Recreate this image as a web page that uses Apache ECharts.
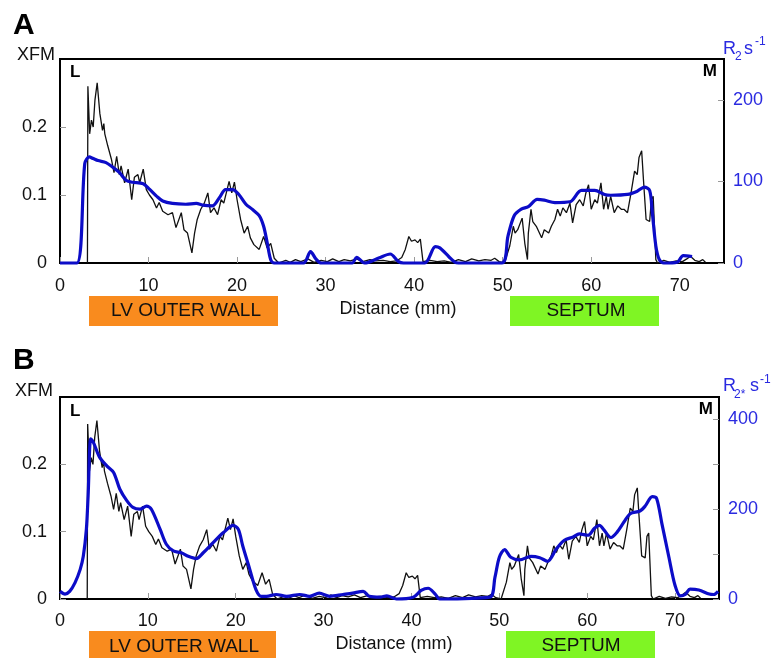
<!DOCTYPE html>
<html>
<head>
<meta charset="utf-8">
<script src="https://cdn.jsdelivr.net/npm/echarts@6/dist/echarts.min.js"></script>
<style>
  html, body { margin: 0; padding: 0; background: #fff; }
  #chart { width: 773px; height: 658px; }
</style>
</head>
<body>
<div id="chart"></div>
<script>
// XFM profile (same trace in both panels): distance in mm, signal
var xfmMm = [3.1, 3.15, 3.35, 3.55, 3.75, 3.95, 4.2, 4.5, 4.8, 4.95, 5.06, 5.4, 5.8, 6.1, 6.4, 6.7, 6.9, 7.3, 7.7, 8.1,
  8.4, 8.8, 9.0, 9.4, 9.75, 10.1, 10.5, 10.9, 11.2, 11.6, 12.2, 12.7, 13.1, 13.7, 14.0, 14.4, 14.9, 15.2, 15.5, 15.9,
  16.3, 16.7, 17.0, 17.4, 17.8, 18.2, 18.5, 19.1, 19.4, 19.7, 20.0, 20.4, 20.8, 21.2, 21.5, 21.9, 22.5, 23.0, 23.4, 23.8,
  24.2, 24.7, 25.5, 26.0, 26.6, 27.2, 28.0, 28.7, 29.5, 30.2, 30.8, 31.5, 32.1, 32.8, 33.5, 34.2, 35.0, 35.7, 36.5, 37.3,
  38.0, 38.6, 39.0, 39.4, 39.7, 40.1, 40.4, 40.7, 41.0, 41.8, 42.6, 43.4, 44.2, 45.0, 45.8, 46.5, 47.3, 48.0, 48.7, 49.1,
  49.6, 50.2, 50.8, 51.2, 51.4, 51.7, 52.2, 52.5, 52.8, 52.9, 53.2, 53.4, 53.8, 54.4, 54.7, 55.2, 55.5, 55.9, 56.2, 56.5,
  56.8, 57.2, 57.6, 57.9, 58.3, 58.7, 59.1, 59.4, 59.7, 60.0, 60.4, 60.7, 61.1, 61.4, 61.7, 61.9, 62.2, 62.6, 63.0, 63.4,
  63.7, 64.1, 64.5, 64.9, 65.2, 65.4, 65.7, 65.9, 66.2, 66.6, 66.8, 67.0, 67.3, 67.5, 68.2, 68.9, 69.6, 70.3, 70.8, 71.2,
  71.7, 72.2, 72.6, 72.9];
var xfmVal = [0, 0.26, 0.19, 0.21, 0.20, 0.24, 0.265, 0.22, 0.195, 0.205, 0.19, 0.172, 0.153, 0.133, 0.157, 0.13, 0.143, 0.118, 0.138, 0.093,
  0.126, 0.13, 0.118, 0.138, 0.108, 0.1, 0.093, 0.081, 0.089, 0.076, 0.071, 0.074, 0.052, 0.074, 0.049, 0.044, 0.015, 0.044, 0.064, 0.079,
  0.088, 0.103, 0.074, 0.081, 0.071, 0.093, 0.088, 0.12, 0.103, 0.119, 0.093, 0.064, 0.044, 0.054, 0.037, 0.027, 0.02, 0.039, 0.022, 0.029,
  0.007, 0, 0.004, 0.001, 0.005, 0.002, 0.006, 0.001, 0.004, 0.002, 0.006, 0.002, 0.005, 0.003, 0.006, 0.002, 0.005, 0.003, 0.004, 0.002,
  0.003, 0.008, 0.02, 0.039, 0.032, 0.034, 0.03, 0.035, 0.002, 0.004, 0.002, 0.003, 0.001, 0.005, 0.002, 0.006, 0.003, 0.005, 0.004, 0.007,
  0.002, 0, 0.025, 0.054, 0.044, 0.049, 0.066, 0.029, 0.005, 0.044, 0.079, 0.061, 0.054, 0.037, 0.049, 0.044, 0.054, 0.064, 0.079, 0.069,
  0.081, 0.074, 0.088, 0.059, 0.086, 0.093, 0.084, 0.103, 0.115, 0.079, 0.093, 0.088, 0.118, 0.079, 0.098, 0.079, 0.098, 0.074, 0.084, 0.079,
  0.079, 0.074, 0.103, 0.135, 0.13, 0.155, 0.165, 0.123, 0.064, 0.061, 0.093, 0.098, 0.005, 0, 0.004, 0.001, 0.003, 0.002, 0.006, 0.01,
  0.004, 0.002, 0.005, 0.001];

// panel A: R2 (s-1)
var r2aMm = [0, 1.9, 2.8, 3.3, 3.75, 4.3, 5.2, 6.0, 6.7, 7.5, 8.2, 9.4, 10.1, 10.9, 11.6, 12.7, 14.2, 15.4, 16.1, 17.2,
  18.0, 18.7, 19.5, 20.2, 21.0, 21.7, 22.5, 23.0, 23.4, 23.8, 24.2, 27.5, 28.3, 28.9, 29.5, 33.0, 33.5, 34.4, 36.0, 37.3,
  38.2, 38.8, 41.2, 42.4, 42.9, 43.9, 44.6, 45.0, 49.9, 50.6, 51.3, 52.1, 52.9, 53.9, 54.7, 55.9, 57.6, 58.9, 60.4, 61.5,
  62.2, 64.1, 65.2, 66.0, 66.6, 66.9, 67.3, 67.7, 68.2, 69.7, 70.4, 71.4];
var r2aVal = [0, 0, 122, 130, 128, 125.5, 123, 117, 111, 101, 99, 97, 90.5, 82, 76, 73, 72, 73, 71, 70,
  80, 90, 90, 84, 72, 66, 58, 45, 25, 4, 0, 0, 14, 5, 0, 0, 7, 0, 6, 11,
  2, 0, 0, 20, 18.5, 8, 1, 0, 0, 33, 58, 66, 69, 78, 77, 74, 75, 89, 89, 84,
  83, 84, 88, 93, 89, 62, 21, 4, 0, 1, 9, 8];

// panel B: R2* (s-1)
var r2bMm = [0, 0.57, 1.1, 1.7, 2.3, 2.65, 3.0, 3.2, 3.5, 3.8, 4.5, 5.3, 6.1, 6.8, 7.6, 8.3, 9.1, 9.85, 10.4, 11.4,
  12.1, 12.9, 13.8, 14.6, 15.5, 16.3, 17.4, 18.6, 19.7, 20.3, 20.8, 21.6, 22.3, 22.9, 23.5, 24.6, 25.8, 27.3, 28.4, 29.5,
  30.7, 32.2, 33.3, 34.5, 35.2, 36.4, 37.2, 38.3, 40.2, 41.1, 41.9, 42.7, 43.2, 48.9, 49.5, 50.0, 50.6, 51.3, 52.3, 53.6,
  54.6, 55.5, 56.5, 57.4, 58.4, 59.1, 60.1, 60.8, 61.4, 61.9, 62.7, 63.4, 64.2, 64.9, 66.0, 66.6, 67.4, 67.9, 68.5, 69.3,
  70.0, 70.6, 71.2, 71.7, 72.7, 73.9, 74.4, 74.9];
var r2bVal = [17, 11, 17, 36, 66, 95, 155, 230, 357, 349, 316, 297, 282, 245, 219, 204, 200, 207, 200, 155,
  122, 107, 103, 95, 90, 103, 125, 148, 164, 155, 118, 66, 21, 6, 6, 10, 6, 10, 6, 13,
  6, 10, 13, 17, 6, 4, 7, 0, 4, 19, 24, 11, 0, 4, 48, 93, 110, 93, 87, 95,
  92, 84, 112, 131, 138, 145, 142, 157, 164, 154, 137, 149, 172, 190, 196, 207, 228, 224, 168, 93,
  30, 7, 11, 22, 20, 11, 10, 17];

function pairs(xs, ys) {
  var out = [];
  for (var i = 0; i < xs.length; i++) out.push([xs[i], ys[i]]);
  return out;
}

var FONT = '"Liberation Sans", Arial, Helvetica, sans-serif';
var BLUE = '#0c0cc8';
var BLUE_TEXT = '#2a2ae0';
var TICK = '#9a9a9a';

function xAx(idx, margin) {
  return {
    type: 'value', gridIndex: idx, min: 0, max: 75, interval: 10,
    axisLine: { show: false },
    axisTick: { inside: true, length: 6, lineStyle: { color: TICK, width: 1 } },
    axisLabel: { margin: margin, fontSize: 18, color: '#111', fontFamily: FONT, showMaxLabel: false },
    splitLine: { show: false }
  };
}
function yLeft(idx) {
  return {
    type: 'value', gridIndex: idx, position: 'left', min: 0, max: 0.3, interval: 0.1,
    axisLine: { show: false },
    axisTick: { inside: true, length: 6, lineStyle: { color: TICK, width: 1 } },
    axisLabel: { margin: 13, fontSize: 18, color: '#111', fontFamily: FONT, showMaxLabel: false },
    splitLine: { show: false }
  };
}
function yRight(idx, max, fmt) {
  return {
    type: 'value', gridIndex: idx, position: 'right', min: 0, max: max, interval: 100,
    axisLine: { show: false },
    axisTick: { inside: true, length: 6, lineStyle: { color: TICK, width: 1 } },
    axisLabel: { margin: 9, fontSize: 18, color: BLUE_TEXT, fontFamily: FONT, showMaxLabel: false, formatter: fmt },
    splitLine: { show: false }
  };
}

function txt(x, y, s, size, color, bold, align) {
  return {
    type: 'text', x: x, y: y, z: 100,
    style: {
      text: s, fill: color || '#111', align: align || 'left', verticalAlign: 'middle',
      font: (bold ? 'bold ' : '') + size + 'px ' + FONT
    }
  };
}
function box(x, y, w, h, color, label, cx, cy) {
  return [
    { type: 'rect', shape: { x: x, y: y, width: w, height: h }, style: { fill: color }, z: 50 },
    txt(cx, cy, label, 19, '#111', false, 'center')
  ];
}

var chart = echarts.init(document.getElementById('chart'), null, { renderer: 'canvas' });

var graphics = [
  txt(13, 26, 'A', 30, '#000', true),
  txt(17, 55.5, 'XFM', 18, '#111'),
  txt(70, 72, 'L', 17, '#000', true),
  txt(717, 71.5, 'M', 17, '#000', true, 'right'),
  txt(723, 49.5, 'R', 18, BLUE_TEXT),
  txt(735, 56.5, '2', 12, BLUE_TEXT),
  txt(744, 49.5, 's', 18, BLUE_TEXT),
  txt(755, 42, '-1', 12, BLUE_TEXT),
  txt(398, 309, 'Distance (mm)', 18, '#111', false, 'center'),

  txt(13, 360.5, 'B', 30, '#000', true),
  txt(15, 391.5, 'XFM', 18, '#111'),
  txt(70, 411, 'L', 17, '#000', true),
  txt(713, 409, 'M', 17, '#000', true, 'right'),
  txt(723, 386.5, 'R', 18, BLUE_TEXT),
  txt(734, 394.5, '2*', 12, BLUE_TEXT),
  txt(750, 386.5, 's', 18, BLUE_TEXT),
  txt(760, 380, '-1', 12, BLUE_TEXT),
  txt(394, 644.5, 'Distance (mm)', 18, '#111', false, 'center')
].concat(
  box(89, 296, 189, 30, '#f98b1e', 'LV OUTER WALL', 186, 311),
  box(510, 296, 149, 30, '#7ff524', 'SEPTUM', 586, 311),
  box(89, 631, 187, 30, '#f98b1e', 'LV OUTER WALL', 184, 647),
  box(506, 631, 149, 30, '#7ff524', 'SEPTUM', 581, 646)
);

chart.setOption({
  animation: false,
  backgroundColor: '#fff',
  grid: [
    { left: 60, top: 59, width: 664, height: 204, show: true, borderColor: '#000', borderWidth: 2, backgroundColor: 'transparent' },
    { left: 60, top: 397, width: 659, height: 202, show: true, borderColor: '#000', borderWidth: 2, backgroundColor: 'transparent' }
  ],
  xAxis: [xAx(0, 14), xAx(1, 13)],
  yAxis: [
    yLeft(0),
    yRight(0, 250),
    yLeft(1),
    yRight(1, 450, function (v) { return v % 200 === 0 ? String(v) : ''; })
  ],
  series: [
    {
      name: 'XFM A', type: 'line', xAxisIndex: 0, yAxisIndex: 0, data: pairs(xfmMm, xfmVal),
      showSymbol: false, lineStyle: { color: '#111', width: 1.3 }, z: 2
    },
    {
      name: 'R2 A', type: 'line', xAxisIndex: 0, yAxisIndex: 1, data: pairs(r2aMm, r2aVal),
      showSymbol: false, smooth: 0.3, clip: false, lineStyle: { color: BLUE, width: 3.2 }, z: 3
    },
    {
      name: 'XFM B', type: 'line', xAxisIndex: 1, yAxisIndex: 2, data: pairs(xfmMm, xfmVal),
      showSymbol: false, lineStyle: { color: '#111', width: 1.3 }, z: 2
    },
    {
      name: 'R2* B', type: 'line', xAxisIndex: 1, yAxisIndex: 3, data: pairs(r2bMm, r2bVal),
      showSymbol: false, smooth: 0.3, clip: false, lineStyle: { color: BLUE, width: 3.2 }, z: 3
    }
  ],
  graphic: graphics
});
</script>
</body>
</html>
